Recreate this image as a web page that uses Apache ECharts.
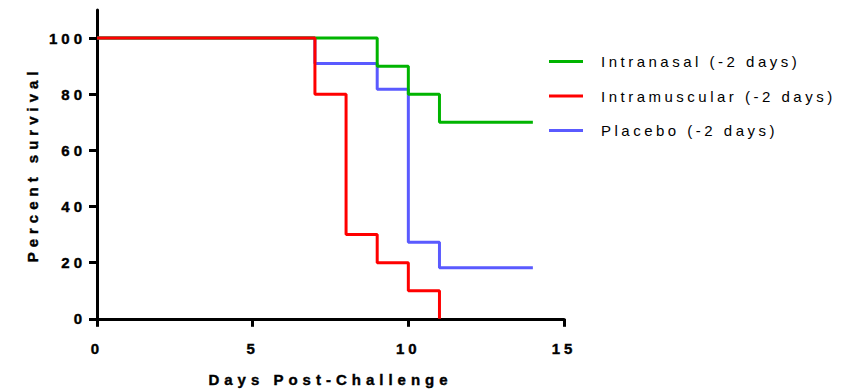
<!DOCTYPE html>
<html>
<head>
<meta charset="utf-8">
<script src="https://cdn.jsdelivr.net/npm/echarts@6/dist/echarts.min.js"></script>
<style>
html,body{margin:0;padding:0;background:#fff;}
#chart{width:848px;height:392px;}
</style>
</head>
<body>
<div id="chart"></div>
<script>
// Data
const seriesNames = ['Intranasal (-2 days)', 'Intramuscular (-2 days)', 'Placebo (-2 days)'];
const intranasalDays = [0, 9, 10, 11, 14];
const intranasalSurvival = [100, 90, 80, 70, 70];
const intramuscularDays = [0, 7, 8, 9, 10, 11];
const intramuscularSurvival = [100, 80, 30, 20, 10, 0];
const placeboDays = [0, 7, 9, 10, 11, 14];
const placeboSurvival = [100, 90.9, 81.8, 27.3, 18.2, 18.2];
const xTicks = [0, 5, 10, 15];
const yTicks = [0, 20, 40, 60, 80, 100];
const xTitle = 'Days Post-Challenge';
const yTitle = 'Percent survival';

const colors = { intranasal: '#00b400', intramuscular: '#ff0000', placebo: '#5a5aff' };
const FONT = 'Arial, "Liberation Sans", sans-serif';

function pairs(xs, ys) { return xs.map((x, i) => [x, ys[i]]); }

const chart = echarts.init(document.getElementById('chart'), null, { renderer: 'svg' });

const boldText = { fontFamily: FONT, fontWeight: 'bold', fontSize: 15, color: '#000', textBorderColor: '#000', textBorderWidth: 0.4 };

const axisCommon = {
  axisLine: { show: true, lineStyle: { color: '#000', width: 3 } },
  splitLine: { show: false },
  nameLocation: 'middle',
  nameTextStyle: boldText
};

chart.setOption({
  animation: false,
  backgroundColor: '#fff',
  grid: { left: 97, right: 284, top: 10, bottom: 72, containLabel: false },
  legend: {
    orient: 'vertical',
    left: 544,
    top: 49,
    icon: 'rect',
    itemWidth: 34,
    itemHeight: 3,
    itemGap: 19.5,
    data: [seriesNames[0], seriesNames[1], seriesNames[2]],
    textStyle: { fontFamily: FONT, fontSize: 15, color: '#000', padding: [0, 0, 0, 13] }
  },
  xAxis: Object.assign({}, axisCommon, {
    type: 'value', min: 0, max: 15, interval: 5,
    name: xTitle, nameGap: 53,
    axisLabel: Object.assign({ margin: 22, customValues: xTicks }, boldText),
    axisTick: { show: true, length: 8, lineStyle: { color: '#000', width: 3 }, customValues: xTicks }
  }),
  yAxis: Object.assign({}, axisCommon, {
    type: 'value', min: 0, max: 110,
    name: yTitle, nameGap: 57,
    axisTick: { show: true, length: 8, lineStyle: { color: '#000', width: 3 }, customValues: yTicks },
    axisLabel: Object.assign({ margin: 11, customValues: yTicks }, boldText)
  }),
  series: [
    { name: seriesNames[2], type: 'line', step: 'end', data: pairs(placeboDays, placeboSurvival),
      color: colors.placebo, lineStyle: { width: 3, color: colors.placebo }, showSymbol: false, symbol: 'none' },
    { name: seriesNames[0], type: 'line', step: 'end', data: pairs(intranasalDays, intranasalSurvival),
      color: colors.intranasal, lineStyle: { width: 3, color: colors.intranasal }, showSymbol: false, symbol: 'none' },
    { name: seriesNames[1], type: 'line', step: 'end', data: pairs(intramuscularDays, intramuscularSurvival),
      color: colors.intramuscular, lineStyle: { width: 3, color: colors.intramuscular }, showSymbol: false, symbol: 'none' }
  ]
});

function spaceText() {
  document.querySelectorAll('#chart svg text').forEach(t => {
    const s = t.textContent;
    let ls = 4;
    if (s === xTitle || s === yTitle) ls = 5;
    else if (seriesNames.indexOf(s) >= 0) ls = 3.5;
    t.style.letterSpacing = ls + 'px';
  });
}
chart.on('finished', spaceText);
spaceText();
</script>
</body>
</html>
